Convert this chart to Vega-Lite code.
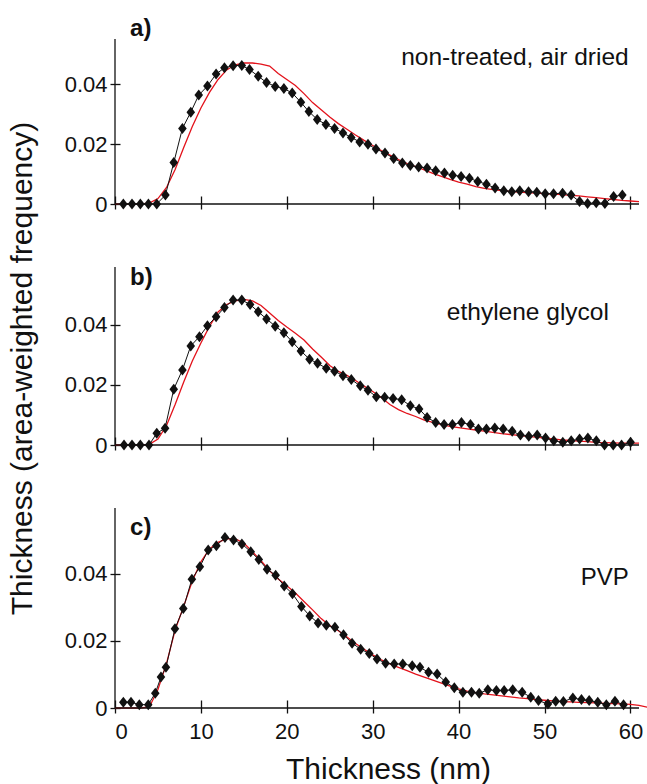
{
  "$schema": "https://vega.github.io/schema/vega-lite/v6.json",
  "background": "white",
  "padding": {"left": 7, "top": 17, "right": 0, "bottom": 0},
  "bounds": "flush",
  "spacing": 63,
  "config": {
    "view": {"stroke": null},
    "font": "Liberation Sans",
    "axis": {"grid": false, "domain": false, "tickColor": "#111", "tickWidth": 1.3, "labelColor": "#111", "labelFont": "Liberation Sans", "labelFontSize": 22, "titleFont": "Liberation Sans", "titleFontSize": 30, "titleFontWeight": "normal", "titleColor": "#111"}
  },
  "datasets": {
    "ptsA": [
      {"x":0.97,"y":0},{"x":1.98,"y":0},{"x":2.95,"y":0},{"x":3.89,"y":0},{"x":4.86,"y":0},{"x":5.87,"y":0.003},{"x":6.84,"y":0.0138},{"x":7.85,"y":0.0252},{"x":8.82,"y":0.0306},{"x":9.75,"y":0.0363},
      {"x":10.76,"y":0.0393},{"x":11.77,"y":0.0433},{"x":12.74,"y":0.0454},{"x":13.75,"y":0.0461},{"x":14.76,"y":0.0462},{"x":15.66,"y":0.0448},{"x":16.67,"y":0.0426},{"x":17.64,"y":0.0405},{"x":18.65,"y":0.0392},{"x":19.66,"y":0.0385},
      {"x":20.63,"y":0.037},{"x":21.64,"y":0.0339},{"x":22.57,"y":0.0308},{"x":23.54,"y":0.0282},{"x":24.55,"y":0.0265},{"x":25.56,"y":0.0252},{"x":26.54,"y":0.0237},{"x":27.5,"y":0.0222},{"x":28.48,"y":0.0207},{"x":29.45,"y":0.0199},
      {"x":30.38,"y":0.0183},{"x":31.43,"y":0.017},{"x":32.44,"y":0.0152},{"x":33.45,"y":0.0137},{"x":34.38,"y":0.0128},{"x":35.35,"y":0.0123},{"x":36.33,"y":0.012},{"x":37.33,"y":0.0111},{"x":38.35,"y":0.0103},{"x":39.31,"y":0.0096},
      {"x":40.29,"y":0.0092},{"x":41.26,"y":0.0086},{"x":42.23,"y":0.0075},{"x":43.24,"y":0.0066},{"x":44.25,"y":0.0053},{"x":45.26,"y":0.0044},{"x":46.19,"y":0.0041},{"x":47.12,"y":0.0044},{"x":48.14,"y":0.0041},{"x":49.1,"y":0.0039},
      {"x":50.08,"y":0.0034},{"x":51.05,"y":0.0034},{"x":52.1,"y":0.0036},{"x":53.1,"y":0.003},{"x":54.08,"y":0.0008},{"x":55.01,"y":0.0002},{"x":56.02,"y":0.0004},{"x":57.03,"y":0.0002},{"x":58.04,"y":0.0025},{"x":59.06,"y":0.003}
    ],
    "fitA": [
      {"x":0,"y":0},{"x":1,"y":0},{"x":2,"y":0},{"x":3,"y":0},{"x":4,"y":0.0003},{"x":5,"y":0.0018},{"x":6,"y":0.0055},{"x":7,"y":0.0115},{"x":8,"y":0.0188},{"x":9,"y":0.0258},
      {"x":10,"y":0.032},{"x":11,"y":0.0372},{"x":12,"y":0.0415},{"x":13,"y":0.0447},{"x":14,"y":0.0464},{"x":15,"y":0.047},{"x":16,"y":0.047},{"x":17,"y":0.0466},{"x":18,"y":0.046},{"x":19,"y":0.0435},
      {"x":20,"y":0.0415},{"x":21,"y":0.0395},{"x":22,"y":0.0368},{"x":23,"y":0.0338},{"x":24,"y":0.0314},{"x":25,"y":0.029},{"x":26,"y":0.0268},{"x":27,"y":0.0249},{"x":28,"y":0.023},{"x":29,"y":0.0212},
      {"x":30,"y":0.0195},{"x":31,"y":0.0178},{"x":32,"y":0.0163},{"x":33,"y":0.0148},{"x":34,"y":0.0135},{"x":35,"y":0.0125},{"x":36,"y":0.0114},{"x":37,"y":0.0102},{"x":38,"y":0.0092},{"x":39,"y":0.0082},
      {"x":40,"y":0.0073},{"x":41,"y":0.0066},{"x":42,"y":0.0058},{"x":43,"y":0.0052},{"x":44,"y":0.0048},{"x":45,"y":0.0045},{"x":46,"y":0.0042},{"x":47,"y":0.004},{"x":48,"y":0.0038},{"x":49,"y":0.0036},
      {"x":50,"y":0.0035},{"x":51,"y":0.0033},{"x":52,"y":0.0031},{"x":53,"y":0.0029},{"x":54,"y":0.0027},{"x":55,"y":0.0024},{"x":56,"y":0.0021},{"x":57,"y":0.0018},{"x":58,"y":0.0015},{"x":59,"y":0.0012},
      {"x":60,"y":0.001},{"x":61,"y":0.0008}
    ],
    "ptsB": [
      {"x":1.05,"y":0},{"x":1.98,"y":0},{"x":2.95,"y":0},{"x":3.96,"y":0},{"x":4.86,"y":0.0039},{"x":5.83,"y":0.0056},{"x":6.84,"y":0.0186},{"x":7.85,"y":0.025},{"x":8.82,"y":0.033},{"x":9.83,"y":0.0361},
      {"x":10.76,"y":0.0397},{"x":11.77,"y":0.0427},{"x":12.74,"y":0.0458},{"x":13.75,"y":0.0483},{"x":14.76,"y":0.0483},{"x":15.73,"y":0.0468},{"x":16.67,"y":0.0444},{"x":17.64,"y":0.042},{"x":18.65,"y":0.0396},{"x":19.66,"y":0.0374},
      {"x":20.63,"y":0.0344},{"x":21.64,"y":0.0313},{"x":22.65,"y":0.0286},{"x":23.58,"y":0.0272},{"x":24.59,"y":0.0256},{"x":25.56,"y":0.0246},{"x":26.54,"y":0.0231},{"x":27.51,"y":0.0218},{"x":28.55,"y":0.0197},{"x":29.45,"y":0.0182},
      {"x":30.42,"y":0.0161},{"x":31.39,"y":0.0159},{"x":32.37,"y":0.0155},{"x":33.37,"y":0.0151},{"x":34.38,"y":0.0131},{"x":35.4,"y":0.012},{"x":36.33,"y":0.0092},{"x":37.33,"y":0.0075},{"x":38.31,"y":0.0068},{"x":39.28,"y":0.0068},
      {"x":40.33,"y":0.0075},{"x":41.38,"y":0.0068},{"x":42.31,"y":0.0053},{"x":43.24,"y":0.0053},{"x":44.21,"y":0.0057},{"x":45.19,"y":0.0053},{"x":46.24,"y":0.0046},{"x":47.2,"y":0.0033},{"x":48.17,"y":0.0029},{"x":49.15,"y":0.0033},
      {"x":50.12,"y":0.0023},{"x":51.08,"y":0.0014},{"x":52.13,"y":0.0009},{"x":53.11,"y":0.0014},{"x":54.08,"y":0.002},{"x":55.05,"y":0.0023},{"x":56.03,"y":0.0014},{"x":56.99,"y":0},{"x":58.0,"y":0},{"x":58.97,"y":0},
      {"x":60.02,"y":0.0009}
    ],
    "fitB": [
      {"x":0,"y":0},{"x":1,"y":0},{"x":2,"y":0},{"x":3,"y":0},{"x":4,"y":0.0002},{"x":5,"y":0.002},{"x":6,"y":0.0065},{"x":7,"y":0.0135},{"x":8,"y":0.021},{"x":9,"y":0.028},
      {"x":10,"y":0.034},{"x":11,"y":0.0395},{"x":12,"y":0.0443},{"x":13,"y":0.0468},{"x":14,"y":0.048},{"x":15,"y":0.0485},{"x":16,"y":0.048},{"x":17,"y":0.0465},{"x":18,"y":0.044},{"x":19,"y":0.0415},
      {"x":20,"y":0.0393},{"x":21,"y":0.0372},{"x":22,"y":0.035},{"x":23,"y":0.032},{"x":24,"y":0.0293},{"x":25,"y":0.0265},{"x":26,"y":0.0245},{"x":27,"y":0.0232},{"x":28,"y":0.0215},{"x":29,"y":0.0196},
      {"x":30,"y":0.0178},{"x":31,"y":0.0158},{"x":32,"y":0.0135},{"x":33,"y":0.0118},{"x":34,"y":0.0105},{"x":35,"y":0.0095},{"x":36,"y":0.0083},{"x":37,"y":0.0075},{"x":38,"y":0.0068},{"x":39,"y":0.0062},
      {"x":40,"y":0.0058},{"x":41,"y":0.0054},{"x":42,"y":0.005},{"x":43,"y":0.0046},{"x":44,"y":0.0042},{"x":45,"y":0.0038},{"x":46,"y":0.0035},{"x":47,"y":0.0032},{"x":48,"y":0.0029},{"x":49,"y":0.0026},
      {"x":50,"y":0.0023},{"x":51,"y":0.002},{"x":52,"y":0.0017},{"x":53,"y":0.0015},{"x":54,"y":0.0013},{"x":55,"y":0.0011},{"x":56,"y":0.0009},{"x":57,"y":0.0008},{"x":58,"y":0.0007},{"x":59,"y":0.0006},
      {"x":60,"y":0.0006},{"x":61,"y":0.0006}
    ],
    "ptsC": [
      {"x":0.97,"y":0.0017},{"x":1.86,"y":0.0017},{"x":2.83,"y":0.001},{"x":3.87,"y":0.001},{"x":4.69,"y":0.0044},{"x":5.35,"y":0.0092},{"x":5.93,"y":0.0121},{"x":6.98,"y":0.0236},{"x":7.95,"y":0.0296},{"x":8.95,"y":0.0383},
      {"x":9.88,"y":0.042},{"x":10.85,"y":0.047},{"x":11.8,"y":0.0483},{"x":12.8,"y":0.0507},{"x":13.8,"y":0.05},{"x":14.77,"y":0.0488},{"x":15.8,"y":0.0465},{"x":16.74,"y":0.0442},{"x":17.7,"y":0.0413},{"x":18.7,"y":0.0395},
      {"x":19.7,"y":0.0363},{"x":20.66,"y":0.034},{"x":21.7,"y":0.0302},{"x":22.67,"y":0.0274},{"x":23.64,"y":0.0253},{"x":24.6,"y":0.0246},{"x":25.6,"y":0.024},{"x":26.6,"y":0.0218},{"x":27.6,"y":0.0193},{"x":28.6,"y":0.0175},
      {"x":29.6,"y":0.0162},{"x":30.5,"y":0.0146},{"x":31.5,"y":0.0133},{"x":32.5,"y":0.0131},{"x":33.5,"y":0.0131},{"x":34.6,"y":0.0126},{"x":35.5,"y":0.0121},{"x":36.5,"y":0.0106},{"x":37.5,"y":0.0101},{"x":38.5,"y":0.0077},
      {"x":39.5,"y":0.006},{"x":40.5,"y":0.0047},{"x":41.5,"y":0.0047},{"x":42.4,"y":0.0044},{"x":43.4,"y":0.0054},{"x":44.4,"y":0.0052},{"x":45.3,"y":0.0052},{"x":46.3,"y":0.0054},{"x":47.4,"y":0.0047},{"x":48.4,"y":0.0032},
      {"x":49.3,"y":0.0022},{"x":50.4,"y":0.0012},{"x":51.3,"y":0.002},{"x":52.2,"y":0.0019},{"x":53.3,"y":0.003},{"x":54.3,"y":0.0025},{"x":55.2,"y":0.0022},{"x":56.2,"y":0.0017},{"x":57.2,"y":0.001},{"x":58.2,"y":0.002},
      {"x":59.2,"y":0.001}
    ],
    "fitC": [
      {"x":0,"y":0},{"x":1,"y":0},{"x":2,"y":0},{"x":3,"y":0},{"x":4,"y":0.0003},{"x":5,"y":0.0055},{"x":6,"y":0.0133},{"x":7,"y":0.0232},{"x":8,"y":0.0303},{"x":9,"y":0.0378},
      {"x":10,"y":0.0435},{"x":11,"y":0.0473},{"x":12,"y":0.0493},{"x":13,"y":0.0504},{"x":14,"y":0.0503},{"x":15,"y":0.0491},{"x":16,"y":0.0465},{"x":17,"y":0.0438},{"x":18,"y":0.0408},{"x":19,"y":0.0384},
      {"x":20,"y":0.0364},{"x":21,"y":0.0342},{"x":22,"y":0.0317},{"x":23,"y":0.0292},{"x":24,"y":0.0266},{"x":25,"y":0.0245},{"x":26,"y":0.023},{"x":27,"y":0.0211},{"x":28,"y":0.0192},{"x":29,"y":0.0175},
      {"x":30,"y":0.0158},{"x":31,"y":0.0143},{"x":32,"y":0.0131},{"x":33,"y":0.0121},{"x":34,"y":0.0111},{"x":35,"y":0.0101},{"x":36,"y":0.0092},{"x":37,"y":0.0083},{"x":38,"y":0.0074},{"x":39,"y":0.0065},
      {"x":40,"y":0.0057},{"x":41,"y":0.005},{"x":42,"y":0.0046},{"x":43,"y":0.0042},{"x":44,"y":0.0039},{"x":45,"y":0.0036},{"x":46,"y":0.0033},{"x":47,"y":0.003},{"x":48,"y":0.0028},{"x":49,"y":0.0025},
      {"x":50,"y":0.0023},{"x":51,"y":0.0021},{"x":52,"y":0.0019},{"x":53,"y":0.0018},{"x":54,"y":0.0017},{"x":55,"y":0.0016},{"x":56,"y":0.0015},{"x":57,"y":0.0014},{"x":58,"y":0.0013},{"x":59,"y":0.0012},
      {"x":60,"y":0.0011},{"x":61,"y":0.0008},{"x":62,"y":0.0002}
    ]
  },
  "vconcat": [
    {
      "width": 524, "height": 165,
      "layer": [
        {"data": {"name": "fitA"}, "mark": {"type": "line", "color": "#e3121b", "strokeWidth": 1.3},
         "encoding": {
           "x": {"field": "x", "type": "quantitative", "scale": {"domain": [0, 61], "nice": false, "zero": false},
                 "axis": {"values": [0,10,20,30,40,50,60], "labels": false, "title": null, "offset": -8, "tickSize": 13}},
           "y": {"field": "y", "type": "quantitative", "scale": {"domain": [0, 0.055], "nice": false, "zero": false},
                 "axis": {"values": [0,0.02,0.04], "labelExpr": "datum.value == 0 ? '0' : format(datum.value, '.2f')", "title": null, "offset": -5, "tickSize": 10, "labelPadding": 3}}
         }},
        {"data": {"name": "ptsA"}, "mark": {"type": "line", "color": "#111", "strokeWidth": 1},
         "encoding": {"x": {"field": "x", "type": "quantitative"}, "y": {"field": "y", "type": "quantitative"}}},
        {"data": {"name": "ptsA"}, "mark": {"type": "point", "shape": "M0,-1L0.78,0L0,1L-0.78,0Z", "filled": true, "color": "#111", "opacity": 1, "size": 121},
         "encoding": {"x": {"field": "x", "type": "quantitative"}, "y": {"field": "y", "type": "quantitative"}}},
        {"data": {"values": [{}]}, "mark": {"type": "rule", "color": "#111", "strokeWidth": 1.3}, "encoding": {"y": {"datum": 0}}},
        {"data": {"values": [{}]}, "mark": {"type": "rule", "color": "#111", "strokeWidth": 1.3}, "encoding": {"x": {"datum": 0}}},
        {"data": {"values": [{}]}, "mark": {"type": "text", "text": "a)", "fontSize": 24, "fontWeight": "bold", "align": "left", "baseline": "middle", "color": "#111"},
         "encoding": {"x": {"datum": 1.75}, "y": {"datum": 0.0583}}},
        {"data": {"values": [{}]}, "mark": {"type": "text", "text": "non-treated, air dried", "fontSize": 24.5, "align": "right", "baseline": "middle", "color": "#111"},
         "encoding": {"x": {"datum": 59.8}, "y": {"datum": 0.0487}}}
      ]
    },
    {
      "width": 524, "height": 178,
      "layer": [
        {"data": {"name": "fitB"}, "mark": {"type": "line", "color": "#e3121b", "strokeWidth": 1.3},
         "encoding": {
           "x": {"field": "x", "type": "quantitative", "scale": {"domain": [0, 61], "nice": false, "zero": false},
                 "axis": {"values": [0,10,20,30,40,50,60], "labels": false, "title": null, "offset": -8, "tickSize": 13}},
           "y": {"field": "y", "type": "quantitative", "scale": {"domain": [0, 0.0593], "nice": false, "zero": false},
                 "axis": {"values": [0,0.02,0.04], "labelExpr": "datum.value == 0 ? '0' : format(datum.value, '.2f')", "title": "Thickness (area-weighted frequency)", "titleY": 101, "titlePadding": 27, "offset": -5, "tickSize": 10, "labelPadding": 3}}
         }},
        {"data": {"name": "ptsB"}, "mark": {"type": "line", "color": "#111", "strokeWidth": 1},
         "encoding": {"x": {"field": "x", "type": "quantitative"}, "y": {"field": "y", "type": "quantitative"}}},
        {"data": {"name": "ptsB"}, "mark": {"type": "point", "shape": "M0,-1L0.78,0L0,1L-0.78,0Z", "filled": true, "color": "#111", "opacity": 1, "size": 121},
         "encoding": {"x": {"field": "x", "type": "quantitative"}, "y": {"field": "y", "type": "quantitative"}}},
        {"data": {"values": [{}]}, "mark": {"type": "rule", "color": "#111", "strokeWidth": 1.3}, "encoding": {"y": {"datum": 0}}},
        {"data": {"values": [{}]}, "mark": {"type": "rule", "color": "#111", "strokeWidth": 1.3}, "encoding": {"x": {"datum": 0}}},
        {"data": {"values": [{}]}, "mark": {"type": "text", "text": "b)", "fontSize": 24, "fontWeight": "bold", "align": "left", "baseline": "middle", "color": "#111"},
         "encoding": {"x": {"datum": 1.75}, "y": {"datum": 0.0557}}},
        {"data": {"values": [{}]}, "mark": {"type": "text", "text": "ethylene glycol", "fontSize": 24.5, "align": "right", "baseline": "middle", "color": "#111"},
         "encoding": {"x": {"datum": 57.5}, "y": {"datum": 0.044}}}
      ]
    },
    {
      "width": 524, "height": 200,
      "layer": [
        {"data": {"name": "fitC"}, "mark": {"type": "line", "color": "#e3121b", "strokeWidth": 1.3},
         "encoding": {
           "x": {"field": "x", "type": "quantitative", "scale": {"domain": [0, 61], "nice": false, "zero": false},
                 "axis": {"values": [0,10,20,30,40,50,60], "title": "Thickness (nm)", "titleX": 273, "offset": -8, "tickSize": 13, "labelPadding": 8, "titlePadding": 12}},
           "y": {"field": "y", "type": "quantitative", "scale": {"domain": [0, 0.0595], "nice": false, "zero": false},
                 "axis": {"values": [0,0.02,0.04], "labelExpr": "datum.value == 0 ? '0' : format(datum.value, '.2f')", "title": null, "offset": -5, "tickSize": 10, "labelPadding": 3}}
         }},
        {"data": {"name": "ptsC"}, "mark": {"type": "line", "color": "#111", "strokeWidth": 1},
         "encoding": {"x": {"field": "x", "type": "quantitative"}, "y": {"field": "y", "type": "quantitative"}}},
        {"data": {"name": "ptsC"}, "mark": {"type": "point", "shape": "M0,-1L0.78,0L0,1L-0.78,0Z", "filled": true, "color": "#111", "opacity": 1, "size": 121},
         "encoding": {"x": {"field": "x", "type": "quantitative"}, "y": {"field": "y", "type": "quantitative"}}},
        {"data": {"values": [{}]}, "mark": {"type": "rule", "color": "#111", "strokeWidth": 1.3}, "encoding": {"y": {"datum": 0}}},
        {"data": {"values": [{}]}, "mark": {"type": "rule", "color": "#111", "strokeWidth": 1.3}, "encoding": {"x": {"datum": 0}}},
        {"data": {"values": [{}]}, "mark": {"type": "text", "text": "c)", "fontSize": 24, "fontWeight": "bold", "align": "left", "baseline": "middle", "color": "#111"},
         "encoding": {"x": {"datum": 1.75}, "y": {"datum": 0.0535}}},
        {"data": {"values": [{}]}, "mark": {"type": "text", "text": "PVP", "fontSize": 24, "align": "right", "baseline": "middle", "color": "#111"},
         "encoding": {"x": {"datum": 59.8}, "y": {"datum": 0.0387}}}
      ]
    }
  ]
}
